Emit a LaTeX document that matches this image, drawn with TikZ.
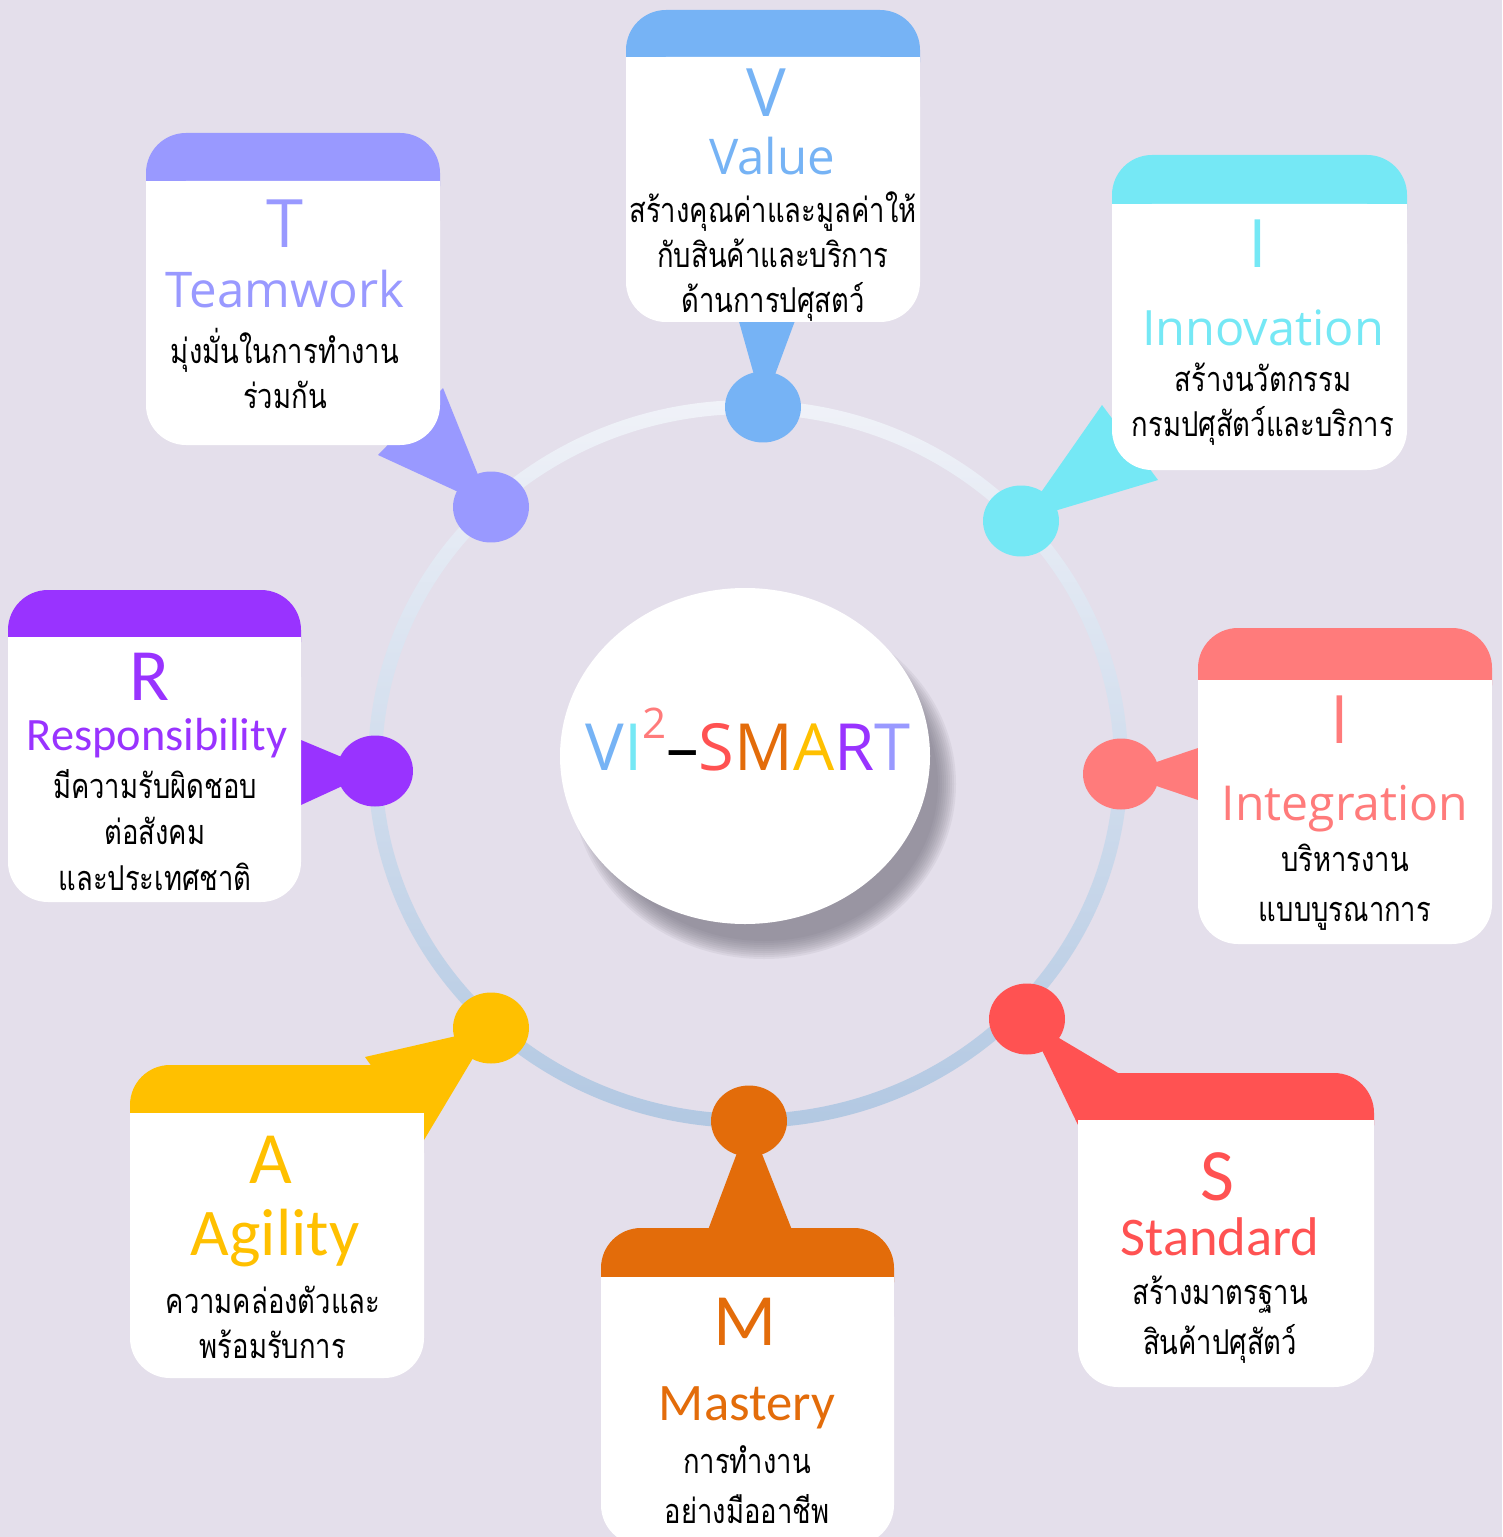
\documentclass[tikz,border=0pt]{standalone}
\usepackage{fontspec}
\setmainfont{Open Sans}
\newfontfamily\calfont{Carlito}
\newfontfamily\thaifont[Script=Thai, FakeStretch=0.8]{Loma}
\usetikzlibrary{shapes.geometric}
\definecolor{bgpaper}{HTML}{E4DFEB}
\definecolor{ringtop}{HTML}{F0F2F8}
\definecolor{ringbottom}{HTML}{B2C8E2}
\definecolor{shadowgrey}{HTML}{6E6C7A}
\definecolor{valueblue}{HTML}{76B3F5}
\definecolor{teampurple}{HTML}{9999FF}
\definecolor{innocyan}{HTML}{75E8F5}
\definecolor{respviolet}{HTML}{9933FF}
\definecolor{integpink}{HTML}{FF7B7B}
\definecolor{agilyellow}{HTML}{FFC000}
\definecolor{mastorange}{HTML}{E36C0A}
\definecolor{standred}{HTML}{FF5252}

% card: colour, left, top, bar bottom, right, bottom
\newcommand{\smartcard}[6]{%
  \fill[#1, rounded corners=0.8cm] (#2,#3) rectangle (#5,#4+45);
  \fill[white, rounded corners=0.8cm] (#2,#4) rectangle (#5,#6);
  \fill[white] (#2,#4) rectangle (#5,#4+45);
}

\tikzset{
  pindot/.style={ellipse, minimum width=1.52cm, minimum height=1.42cm, inner sep=0pt},
  cardletter/.style={anchor=base, inner sep=0pt, font=\fontsize{38}{38}\selectfont},
  calletter/.style={anchor=base, inner sep=0pt, font=\calfont\fontsize{42}{42}\selectfont},
  cardword/.style={anchor=base, inner sep=0pt, font=\fontsize{#1}{#1}\selectfont},
  calword/.style={anchor=base, inner sep=0pt, font=\calfont\fontsize{#1}{#1}\selectfont},
  cardtext/.style={inner sep=0pt, align=center, text=black, font=\thaifont\fontsize{19.5}{#1}\selectfont},
  cardtext/.default=25.6
}

\begin{document}
\begin{tikzpicture}[x=0.02cm, y=-0.02cm]
    \fill[bgpaper] (0,0) rectangle (1502,1537);
    \useasboundingbox (0,0) rectangle (1502,1537);

    % ring
    \shade[top color=ringtop, bottom color=ringbottom, even odd rule]
        (748,764) ellipse (380 and 364) (748,764) ellipse (366 and 350);

    % centre disc with soft shadow
    \foreach \i in {0,...,9}
        \fill[shadowgrey, opacity=0.09] (764,784) ellipse ({192-2*\i} and {175-2*\i});
    \fill[white] (745,756) ellipse (185 and 168);
    \node[anchor=base, inner sep=0pt, font=\fontsize{37}{37}\selectfont] (title) at (748,770)
        {\textcolor{valueblue}{V}\textcolor{innocyan}{I}\textcolor{integpink}{\raisebox{0.48em}{\fontsize{24}{24}\selectfont 2}}\textcolor{black}{–}\textcolor{standred}{S}\textcolor{mastorange}{M}\textcolor{agilyellow}{A}\textcolor{respviolet}{R}\textcolor{teampurple}{T}};

    % dots on the ring
    \node[pindot, fill=valueblue] (dotV) at (763,407) {};
    \node[pindot, fill=teampurple] (dotT) at (491,507) {};
    \node[pindot, fill=innocyan] (dotIa) at (1021,521) {};
    \node[pindot, fill=respviolet] (dotR) at (375,771) {};
    \node[pindot, fill=integpink] (dotIb) at (1121,774) {};
    \node[pindot, fill=agilyellow] (dotA) at (491,1028) {};
    \node[pindot, fill=mastorange] (dotM) at (749,1121) {};
    \node[pindot, fill=standred] (dotS) at (1027,1019) {};

    % pointers
    \coordinate (pinV1) at (738,318);   \coordinate (pinV2) at (796,318);
    \coordinate (pinT1) at (443,388);   \coordinate (pinT2) at (378,455);
    \coordinate (pinIa1) at (1102,405); \coordinate (pinIa2) at (1158,480);
    \coordinate (pinR1) at (301,740);   \coordinate (pinR2) at (301,805);
    \coordinate (pinIb1) at (1198,748); \coordinate (pinIb2) at (1198,800);
    \coordinate (pinA1) at (365,1057);  \coordinate (pinA2) at (424,1140);
    \coordinate (pinM1) at (708,1230);  \coordinate (pinM2) at (792,1230);
    \coordinate (pinS1) at (1118,1073); \coordinate (pinS2) at (1078,1125);
    \fill[valueblue] (pinV1) -- (dotV.center) -- (pinV2) -- cycle;
    \fill[teampurple] (pinT1) -- (dotT.center) -- (pinT2) -- cycle;
    \fill[innocyan] (pinIa1) -- (dotIa.center) -- (pinIa2) -- cycle;
    \fill[respviolet] (pinR1) -- (dotR.center) -- (pinR2) -- cycle;
    \fill[integpink] (pinIb1) -- (dotIb.center) -- (pinIb2) -- cycle;
    \fill[agilyellow] (pinA1) -- (dotA.center) -- (pinA2) -- cycle;
    \fill[mastorange] (pinM1) -- (dotM.center) -- (pinM2) -- cycle;
    \fill[standred] (pinS1) -- (dotS.center) -- (pinS2) -- cycle;

    % cards
    \smartcard{valueblue}{626}{10}{57}{920}{322}
    \smartcard{teampurple}{146}{133}{181}{440}{445}
    \smartcard{innocyan}{1112}{155}{204}{1407}{470}
    \smartcard{respviolet}{8}{590}{637}{301}{902}
    \smartcard{integpink}{1198}{628}{680}{1492}{944}
    \smartcard{agilyellow}{130}{1065}{1113}{424}{1378}
    \smartcard{mastorange}{601}{1228}{1277}{894}{1545}
    \smartcard{standred}{1078}{1073}{1120}{1374}{1387}

    % Value
    \node[cardletter, text=valueblue] (letterV) at (766,117) {V};
    \node[cardword=28, text=valueblue] (wordV) at (772,175) {Value};
    \node[cardtext] (textV) at (773,257) {สร้างคุณค่าและมูลค่าให้\\กับสินค้าและบริการ\\ด้านการปศุสตว์};

    % Teamwork
    \node[cardletter, text=teampurple] (letterT) at (285,248) {T};
    \node[cardword=28, text=teampurple] (wordT) at (285,308) {Teamwork};
    \node[cardtext] (textT) at (285,368) {มุ่งมั่นในการทำงาน\\ร่วมกัน};

    % Innovation
    \node[cardletter, text=innocyan] (letterIa) at (1258,268) {I};
    \node[cardword=27.7, text=innocyan] (wordIa) at (1263,345) {Innovation};
    \node[cardtext] (textIa) at (1263,404) {สร้างนวัตกรรม\\กรมปศุสัตว์และบริการ};

    % Responsibility
    \node[calletter, text=respviolet] (letterR) at (150,700) {R};
    \node[calword=26.4, text=respviolet] (wordR) at (157,750) {Responsibility};
    \node[cardtext=26.2] (textR) at (155,830) {มีความรับผิดชอบ\\ต่อสังคม\\และประเทศชาติ};

    % Integration
    \node[cardletter, text=integpink] (letterIb) at (1340,743) {I};
    \node[cardword=27.4, text=integpink] (wordIb) at (1345,820) {Integration};
    \node[cardtext=28.5] (textIb) at (1345,887) {บริหารงาน\\แบบบูรณาการ};

    % Agility
    \node[calletter, text=agilyellow] (letterA) at (271,1183) {A};
    \node[calword=38, text=agilyellow] (wordA) at (275,1255) {Agility};
    \node[cardtext] (textA) at (273,1322) {ความคล่องตัวและ\\พร้อมรับการ};

    % Mastery
    \node[calletter, text=mastorange] (letterM) at (745,1345) {M};
    \node[calword=30, text=mastorange] (wordM) at (747,1420) {Mastery};
    \node[cardtext=28.5] (textM) at (747,1485) {การทำงาน\\อย่างมืออาชีพ};

    % Standard
    \node[calletter, text=standred] (letterS) at (1217,1200) {S};
    \node[calword=31, text=standred] (wordS) at (1220,1255) {Standard};
    \node[cardtext=28.5] (textS) at (1220,1320) {สร้างมาตรฐาน\\สินค้าปศุสัตว์};
\end{tikzpicture}
\end{document}
